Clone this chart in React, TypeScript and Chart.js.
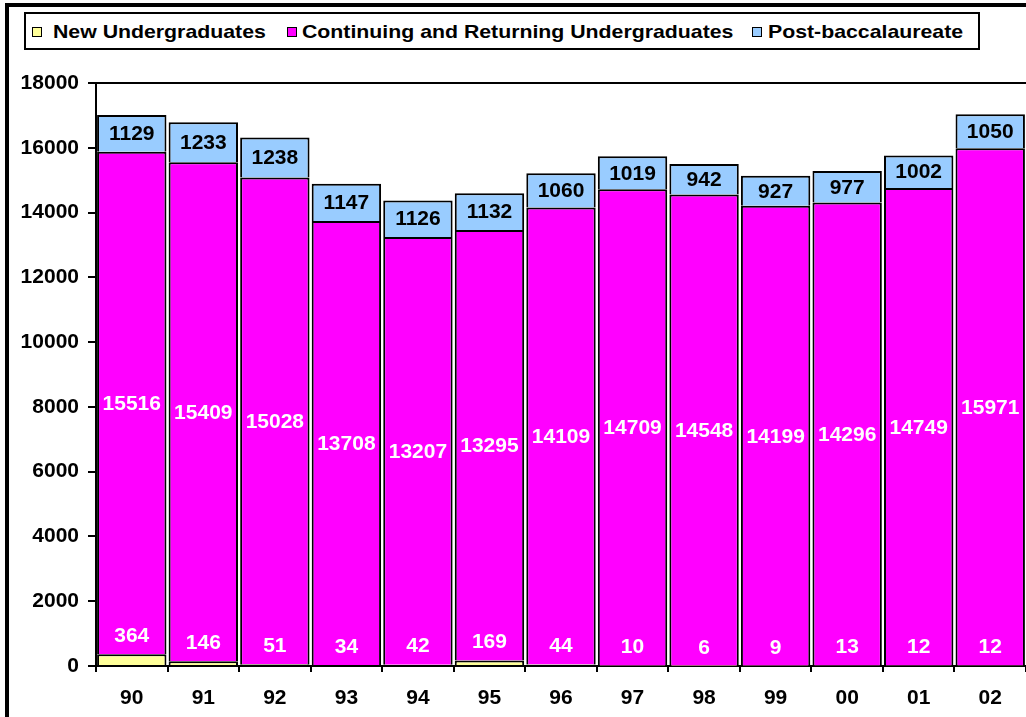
import React, { useEffect, useRef } from "react";
import { Chart, registerables } from "chart.js";

Chart.register(...registerables);

const categories = ["90", "91", "92", "93", "94", "95", "96", "97", "98", "99", "00", "01", "02"];
const newUndergraduates = [364, 146, 51, 34, 42, 169, 44, 10, 6, 9, 13, 12, 12];
const continuingReturning = [15516, 15409, 15028, 13708, 13207, 13295, 14109, 14709, 14548, 14199, 14296, 14749, 15971];
const postBaccalaureate = [1129, 1233, 1238, 1147, 1126, 1132, 1060, 1019, 942, 927, 977, 1002, 1050];
const seriesNames = ["New Undergraduates", "Continuing and Returning Undergraduates", "Post-baccalaureate"];
const seriesColors = ["#FFFF99", "#FF00FF", "#99CCFF"];
const yTickMax = 18000;
const yTickStep = 2000;

const FONT = "'Liberation Sans', Arial, Helvetica, sans-serif";

const labelPlugin = {
  id: "barLabels",
  afterDatasetsDraw(chart: any) {
    const ctx = chart.ctx;
    ctx.save();
    ctx.font = `bold 21px ${FONT}`;
    ctx.textAlign = "center";
    ctx.textBaseline = "middle";
    chart.data.datasets.forEach((ds: any, di: number) => {
      const meta = chart.getDatasetMeta(di);
      meta.data.forEach((el: any, i: number) => {
        const v = ds.data[i];
        let y: number;
        if (di === 0) {
          y = el.y - 19;
          ctx.fillStyle = "#FFFFFF";
        } else if (di === 1) {
          y = (el.y + el.base) / 2;
          ctx.fillStyle = "#FFFFFF";
        } else {
          y = (el.y + el.base) / 2;
          ctx.fillStyle = "#000000";
        }
        ctx.fillText(String(v), el.x, y + 1);
      });
    });
    ctx.restore();
  },
};

export default function App() {
  const canvasRef = useRef<HTMLCanvasElement | null>(null);

  useEffect(() => {
    if (!canvasRef.current) return;
    const tickFont = { family: FONT, size: 21, weight: "bold" as const };
    const chart = new Chart(canvasRef.current, {
      type: "bar",
      data: {
        labels: categories,
        datasets: [newUndergraduates, continuingReturning, postBaccalaureate].map((d, i) => ({
          label: seriesNames[i],
          data: d,
          backgroundColor: seriesColors[i],
          borderColor: "#000000",
          borderWidth: 2,
          barPercentage: 0.97,
          categoryPercentage: 1,
        })),
      },
      options: {
        responsive: false,
        animation: false,
        layout: { padding: { top: 83, left: 0, right: 0, bottom: 0 } },
        plugins: {
          legend: { display: false },
          tooltip: { enabled: false },
        },
        scales: {
          x: {
            stacked: true,
            grid: {
              display: true,
              drawOnChartArea: false,
              tickLength: 6,
              color: "#000000",
              lineWidth: 2,
              offset: true,
            },
            border: { display: true, color: "#000000", width: 2 },
            ticks: { font: tickFont, color: "#000000", padding: 14, maxRotation: 0, autoSkip: false },
            afterFit: (s: any) => {
              s.height = 51;
            },
          },
          y: {
            stacked: true,
            min: 0,
            max: yTickMax,
            grid: {
              drawOnChartArea: true,
              color: (c: any) => (c.tick && c.tick.value === yTickMax ? "#000000" : "rgba(0,0,0,0)"),
              tickColor: "#000000",
              lineWidth: 2,
              tickLength: 8,
            },
            border: { display: true, color: "#000000", width: 2 },
            ticks: {
              stepSize: yTickStep,
              font: tickFont,
              color: "#000000",
              padding: 9,
              callback: (v: any) => String(v),
            },
            afterFit: (s: any) => {
              s.width = 96;
            },
          },
        },
      },
      plugins: [labelPlugin],
    });
    return () => chart.destroy();
  }, []);

  const legendItems = [
    { sq: 32, tx: 53 },
    { sq: 287, tx: 302 },
    { sq: 752, tx: 768 },
  ];

  return (
    <div
      style={{
        position: "fixed",
        left: 0,
        top: 0,
        width: 1026,
        height: 717,
        overflow: "hidden",
        background: "#FFFFFF",
        fontFamily: FONT,
      }}
    >
      <div
        style={{
          position: "absolute",
          left: 5,
          top: 3,
          width: 1100,
          height: 800,
          borderLeft: "4px solid #000",
          borderTop: "4px solid #000",
          boxSizing: "border-box",
        }}
      />
      <canvas
        ref={canvasRef}
        width={1026}
        height={717}
        style={{ position: "absolute", left: 0, top: 0, width: 1026, height: 717 }}
      />
      <div
        style={{
          position: "absolute",
          left: 24,
          top: 12,
          width: 956,
          height: 38,
          border: "2px solid #000",
          boxSizing: "border-box",
          background: "#FFFFFF",
        }}
      >
        {legendItems.map((it, i) => (
          <React.Fragment key={i}>
            <div
              style={{
                position: "absolute",
                left: it.sq - 26,
                top: 13,
                width: 10,
                height: 10,
                background: seriesColors[i],
                border: "1.5px solid #000",
                boxSizing: "border-box",
              }}
            />
            <span
              style={{
                position: "absolute",
                left: it.tx - 26,
                top: 8,
                fontSize: 18.5,
                lineHeight: "20px",
                fontWeight: "bold",
                whiteSpace: "nowrap",
                color: "#000",
                transform: "scaleX(1.15)",
                transformOrigin: "left center",
              }}
            >
              {seriesNames[i]}
            </span>
          </React.Fragment>
        ))}
      </div>
    </div>
  );
}
